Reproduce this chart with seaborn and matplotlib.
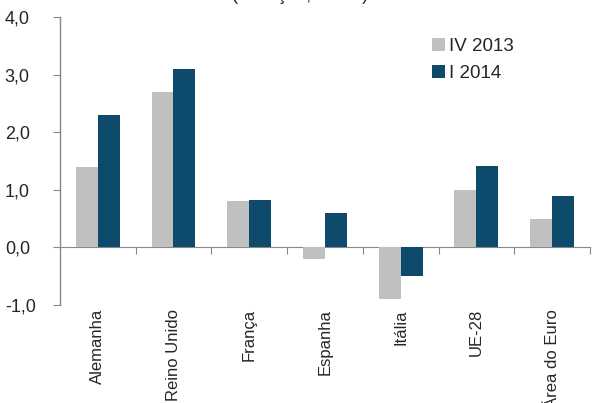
import pandas as pd
import numpy as np
import seaborn as sns
import matplotlib.pyplot as plt

paises = ["Alemanha", "Reino Unido", "França", "Espanha", "Itália", "UE-28", "Área do Euro"]
iv_2013 = [1.4, 2.7, 0.8, -0.2, -0.9, 1.0, 0.5]
i_2014 = [2.3, 3.1, 0.82, 0.6, -0.5, 1.42, 0.9]
series = ["IV 2013", "I 2014"]
cores = ["#c0c0c0", "#0d4a6b"]

df = pd.DataFrame({
    "pais": paises * 2,
    "periodo": [series[0]] * len(paises) + [series[1]] * len(paises),
    "valor": iv_2013 + i_2014,
})

sns.set_style("white")
plt.rcParams["font.family"] = ["Liberation Sans", "DejaVu Sans"]

fig = plt.figure(figsize=(5.93, 4.03), dpi=100)
ax = fig.add_axes([0.101, 0.243, 0.894, 0.715])

sns.barplot(data=df, x="pais", y="valor", hue="periodo", palette=cores,
            width=0.58, gap=0, saturation=1, linewidth=0, ax=ax, legend=True)

ax.set_ylim(-1, 4)
ax.set_xlim(-0.5, len(paises) - 0.5)
ax.set_yticks([-1, 0, 1, 2, 3, 4])
ax.set_yticklabels([f"{v:.1f}".replace(".", ",") for v in [-1, 0, 1, 2, 3, 4]], fontsize=13)
ax.tick_params(axis="y", direction="out", length=5, color="#888888", left=True, pad=20)
ax.tick_params(axis="x", length=0, pad=3)
ax.set_xticks(range(len(paises)))
ax.set_xticklabels(paises, rotation=90, fontsize=12, va="top")
ax.set_xlabel("")
ax.set_ylabel("")

# alinhar os rótulos do eixo y à esquerda
for t in ax.get_yticklabels():
    t.set_ha("left")
    t.set_x(-0.104)
    t.set_transform(ax.get_yaxis_transform())

for s in ["top", "right", "bottom"]:
    ax.spines[s].set_visible(False)
ax.spines["left"].set_color("#888888")
ax.spines["left"].set_linewidth(1)

# eixo do zero com marcas entre categorias
sec = ax.secondary_xaxis(0.2)
sec.set_xticks(np.arange(len(paises)) + 0.5)
sec.set_xticklabels([])
sec.tick_params(direction="out", length=5, color="#888888")
sec.spines["bottom"].set_color("#888888")

leg = ax.legend(loc="upper right", bbox_to_anchor=(0.888, 0.985), frameon=False,
                fontsize=13.5, handlelength=0.7, handleheight=0.7,
                handletextpad=0.2, labelspacing=0.5)

fig.text(0.506, 0.999, "(variação, em %)", ha="center", va="baseline", fontsize=13)

fig.savefig("out.png", dpi=100)
